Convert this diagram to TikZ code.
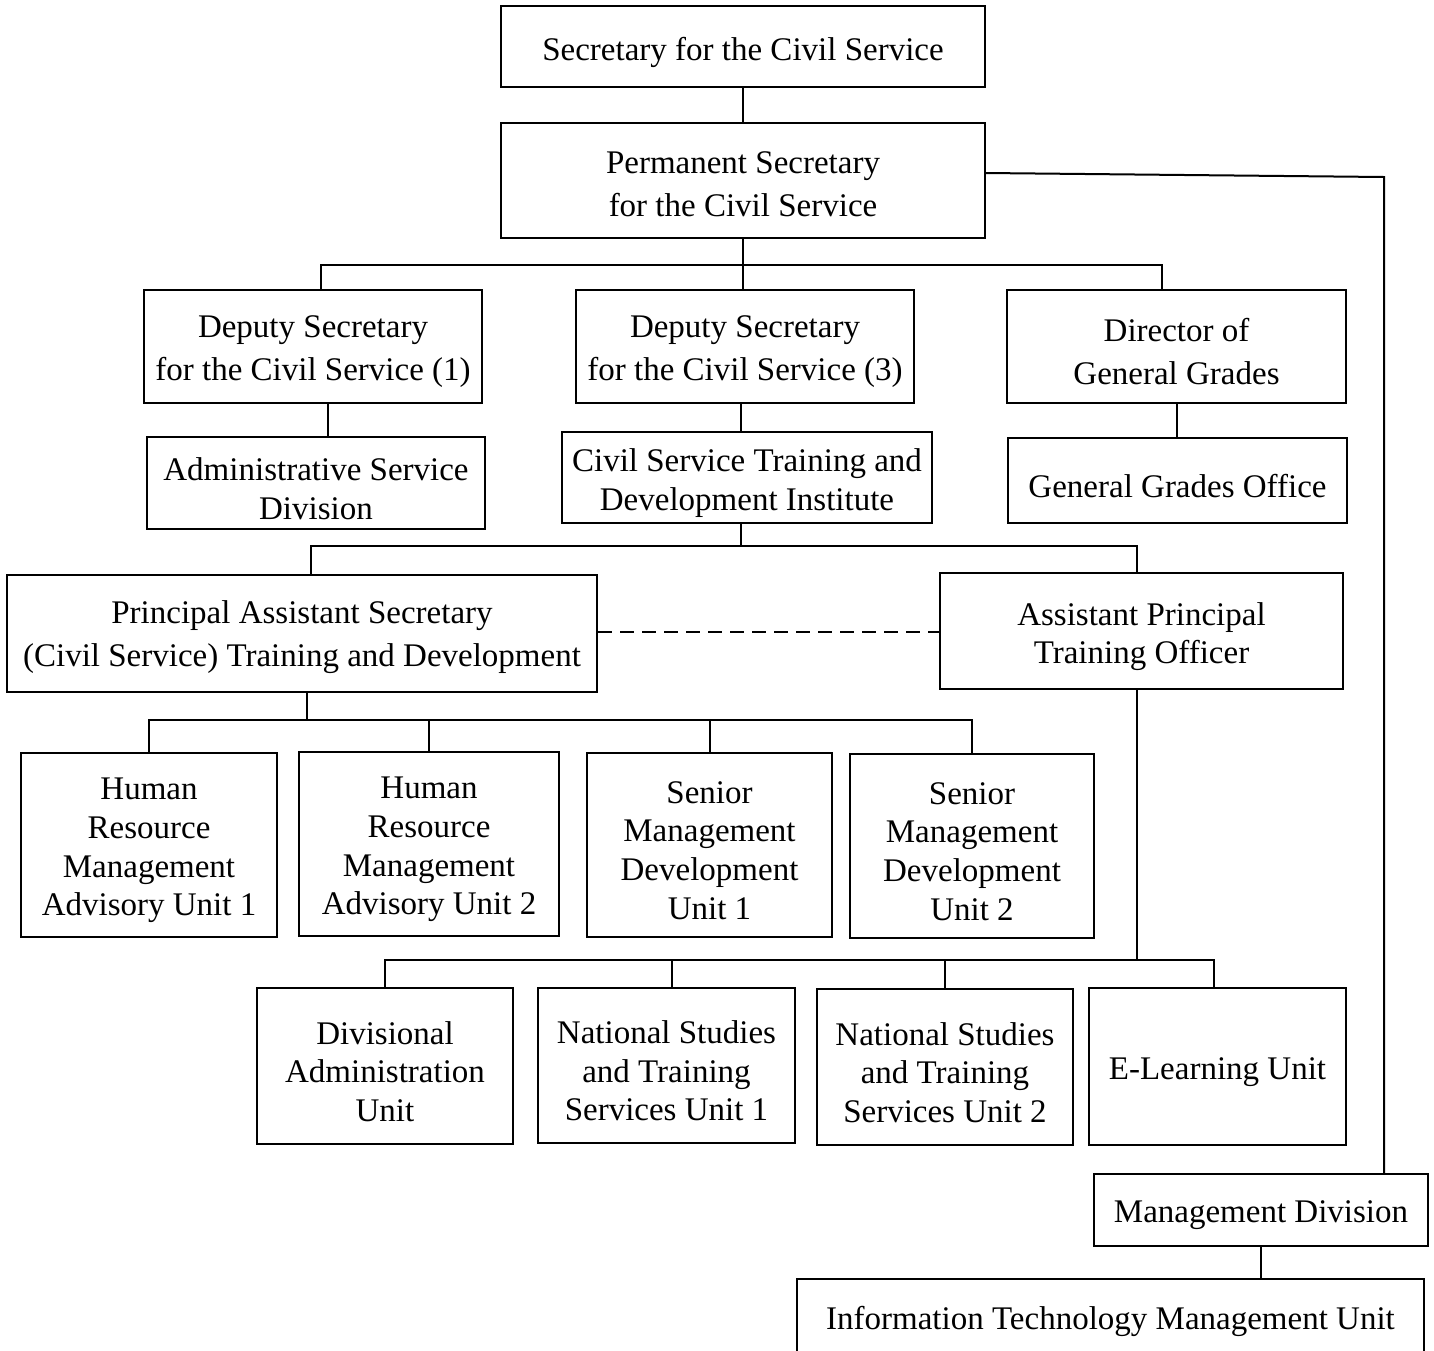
\documentclass[tikz,border=0pt]{standalone}
\usepackage{fontspec}
\setmainfont{Liberation Serif}
\begin{document}
\begin{tikzpicture}[x=0.5pt,y=-0.5pt,
  box/.style={draw, line width=1pt, inner sep=0pt},
  txt/.style={inner sep=0pt, align=center, font=\fontsize{16.5}{19.3}\selectfont},
  wide/.style={font=\fontsize{16.5}{21.5}\selectfont},
  conn/.style={line width=1pt},
  dconn/.style={line width=1pt, dash pattern=on 7pt off 4pt}]
\useasboundingbox (0,0) rectangle (1434,1350);
\newcommand\bx[7][]{%
  \pgfmathsetmacro\bw{(#5-#3)*0.5}%
  \pgfmathsetmacro\bh{(#6-#4)*0.5}%
  \node[box, minimum width=\bw pt, minimum height=\bh pt] (#2) at ({(#3+#5)/2},{(#4+#6)/2}) {};
  \node[txt,#1] (#2-t) at ([yshift=-2.75pt]#2.center) {#7};}
\bx{sec}{501}{6}{985}{87}{Secretary for the Civil Service}
\bx[wide,yshift=1pt]{perm}{501}{123}{985}{238}{Permanent Secretary\\for the Civil Service}
\bx[wide]{ds1}{144}{290}{482}{403}{Deputy Secretary\\for the Civil Service (1)}
\bx[wide]{ds3}{576}{290}{914}{403}{Deputy Secretary\\for the Civil Service (3)}
\bx[wide]{dgg}{1007}{290}{1346}{403}{Director of\\General Grades}
\bx{asd}{147}{437}{485}{529}{Administrative Service\\Division}
\bx{cstdi}{562}{432}{932}{523}{Civil Service Training and\\Development Institute}
\bx{ggo}{1008}{438}{1347}{523}{General Grades Office}
\bx[wide,yshift=1pt]{pas}{7}{575}{597}{692}{Principal Assistant Secretary\\(Civil Service) Training and Development}
\bx{apto}{940}{573}{1343}{689}{Assistant Principal\\Training Officer}
\bx{hr1}{21}{753}{277}{937}{Human\\Resource\\Management\\Advisory Unit 1}
\bx{hr2}{299}{752}{559}{936}{Human\\Resource\\Management\\Advisory Unit 2}
\bx{smd1}{587}{753}{832}{937}{Senior\\Management\\Development\\Unit 1}
\bx{smd2}{850}{754}{1094}{938}{Senior\\Management\\Development\\Unit 2}
\bx{dau}{257}{988}{513}{1144}{Divisional\\Administration\\Unit}
\bx{nst1}{538}{988}{795}{1143}{National Studies\\and Training\\Services Unit 1}
\bx{nst2}{817}{989}{1073}{1145}{National Studies\\and Training\\Services Unit 2}
\bx{el}{1089}{988}{1346}{1145}{E-Learning Unit}
\bx{md}{1094}{1174}{1428}{1246}{Management Division}
\bx[yshift=1pt]{itmu}{797}{1279}{1424}{1356}{Information Technology Management Unit}
% connectors
\draw[conn] (sec.south) -- (perm.north);
\coordinate (b1) at (744,265);
\draw[conn] (perm.south) -- (perm.south |- ds3.north);
\draw[conn] ([xshift=4pt]ds1.north) |- (b1) -| ([xshift=-7.25pt]dgg.north);
\draw[conn] ([xshift=7.5pt]ds1.south) -- ([xshift=7.5pt]ds1.south |- asd.north);
\draw[conn] ([xshift=-2pt]ds3.south) -- ([xshift=-2pt]ds3.south |- cstdi.north);
\draw[conn] (dgg.south) -- (dgg.south |- ggo.north);
\coordinate (b2) at (741,546);
\draw[conn] ([xshift=-3pt]cstdi.south) -- (b2);
\draw[conn] ([xshift=4.5pt]pas.north) |- (b2) -| ([xshift=-2.25pt]apto.north);
\draw[dconn] (pas.east |- 0,632) -- (apto.west |- 0,632);
\coordinate (b3) at (307,720);
\draw[conn] ([xshift=2.5pt]pas.south) -- (b3);
\draw[conn] (hr1.north) |- (b3) -| (smd2.north);
\draw[conn] (hr2.north) -- (hr2.north |- b3);
\draw[conn] (smd1.north) -- (smd1.north |- b3);
\coordinate (b4) at (1137,960);
\draw[conn] ([xshift=-2.25pt]apto.south) -- (b4);
\draw[conn] (dau.north) |- (b4) -| ([xshift=-1.75pt]el.north);
\draw[conn] ([xshift=2.75pt]nst1.north) -- ([xshift=2.75pt]nst1.north |- b4);
\draw[conn] (nst2.north) -- (nst2.north |- b4);
\draw[conn] ([yshift=3.75pt]perm.east) -- (1384,177) -- ([xshift=61.5pt]md.north);
\draw[conn] (md.south) -- (md.south |- itmu.north);
\end{tikzpicture}
\end{document}
